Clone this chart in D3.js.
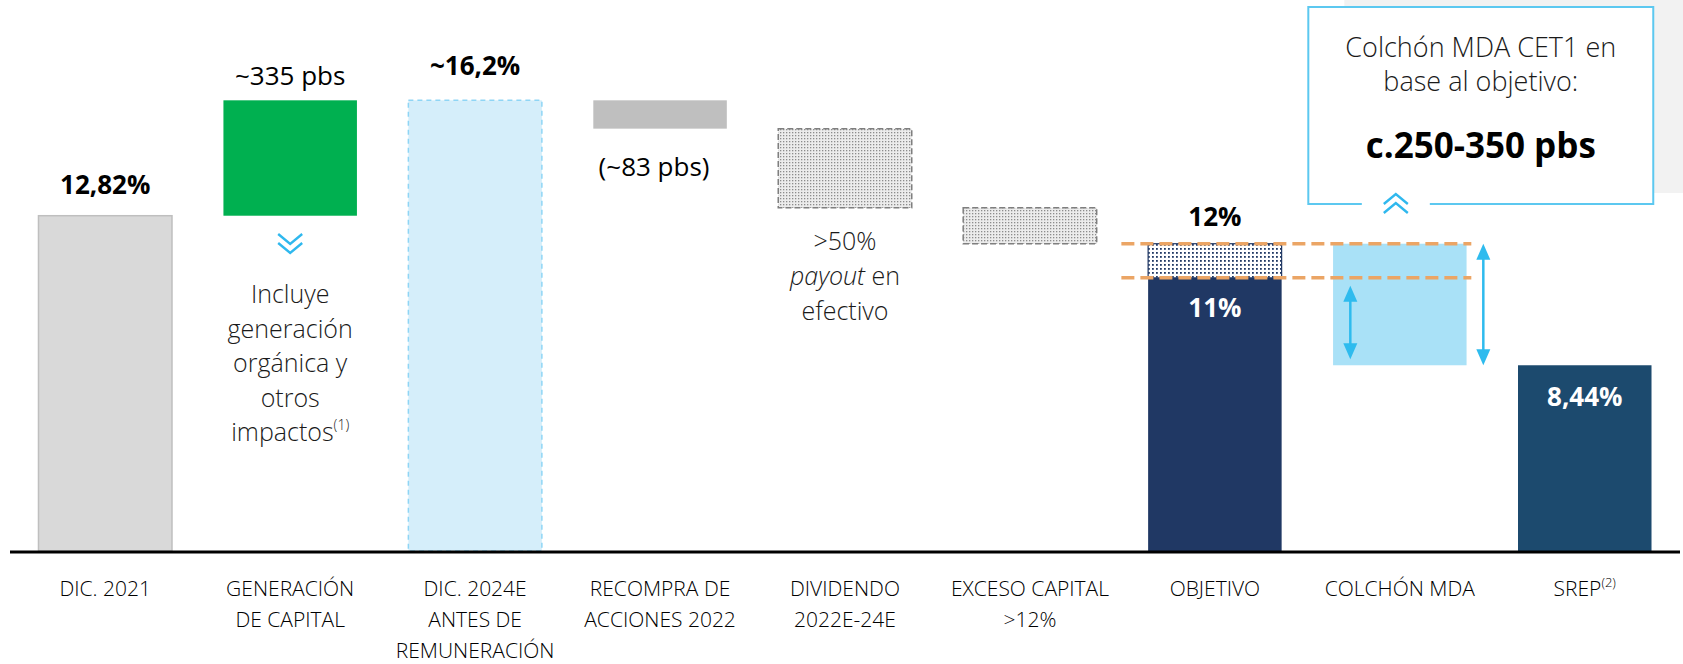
<!DOCTYPE html>
<html lang="es">
<head>
  <meta charset="UTF-8" />
  <title>Colchón MDA CET1</title>
  <script src="https://d3js.org/d3.v7.min.js"></script>
  <style>
    body { margin: 0; background: #fff; }
    svg { display: block; font-family: "Open Sans", sans-serif; }
  </style>
</head>
<body>
  <div id="chart"></div>

  <script>
    // categorías del eje
    const categories = ["dic21", "gen", "dic24", "recompra", "dividendo", "exceso", "objetivo", "colchon", "srep"];
    const categoryLines = [
      ["DIC. 2021"],
      ["GENERACIÓN", "DE CAPITAL"],
      ["DIC. 2024E", "ANTES DE", "REMUNERACIÓN"],
      ["RECOMPRA DE", "ACCIONES 2022"],
      ["DIVIDENDO", "2022E-24E"],
      ["EXCESO CAPITAL", ">12%"],
      ["OBJETIVO"],
      ["COLCHÓN MDA"],
      ["SREP"]
    ];

    // valores (% CET1): inicio y fin de cada barra
    const lowValues  = [0, 12.82, 0, 15.37, 13.05, 12, 0, 8.44, 0];
    const highValues = [12.82, 16.2, 16.2, 16.2, 15.37, 13.05, 12, 12, 8.44];
    const objetivoMin = 11;

    const W = 1683, H = 664;

    const svg = d3.select("#chart").append("svg")
      .attr("width", W)
      .attr("height", H);

    const x = d3.scaleBand()
      .domain(categories)
      .range([10, 1680])
      .paddingInner(0.27)
      .paddingOuter(0.15);

    // eje truncado: la base corresponde a ~3%
    const y = d3.scaleLinear()
      .domain([3, 17])
      .range([551, 73])
      .clamp(true);

    const bw = x.bandwidth();
    const defs = svg.append("defs");

    // tramas punteadas
    const grayDots = defs.append("pattern")
      .attr("id", "grayDots").attr("width", 3).attr("height", 3)
      .attr("patternUnits", "userSpaceOnUse");
    grayDots.append("rect").attr("width", 3).attr("height", 3).attr("fill", "#ececec");
    grayDots.append("rect").attr("width", 1.3).attr("height", 1.3).attr("fill", "#8c8c8c");

    const navyDots = defs.append("pattern")
      .attr("id", "navyDots").attr("width", 4).attr("height", 4)
      .attr("patternUnits", "userSpaceOnUse");
    navyDots.append("rect").attr("width", 4).attr("height", 4).attr("fill", "#ffffff");
    navyDots.append("rect").attr("width", 1.8).attr("height", 1.8).attr("fill", "#203864");

    const shadow = defs.append("filter").attr("id", "shadow")
      .attr("x", "-5%").attr("y", "-200%").attr("width", "110%").attr("height", "500%");
    shadow.append("feGaussianBlur").attr("stdDeviation", 3);

    // recuadro gris de fondo y caja del colchón
    const boxX0 = x("colchon") - 24, boxX1 = x("srep") + bw + 1;
    svg.append("rect")
      .attr("x", boxX0 + 36).attr("y", 0)
      .attr("width", W - boxX0 - 36).attr("height", 193)
      .attr("fill", "#f2f2f2");
    svg.append("rect")
      .attr("x", boxX0).attr("y", 7)
      .attr("width", boxX1 - boxX0).attr("height", 197)
      .attr("fill", "#fff");

    const boxMid = x("colchon") + bw / 2 - 4;
    svg.append("path")
      .attr("d", `M${boxMid - 34},204 H${boxX0} V7 H${boxX1} V204 H${boxMid + 34}`)
      .attr("fill", "none")
      .attr("stroke", "#5cc8f0")
      .attr("stroke-width", 2);

    // chevrones
    function chevron(cx, cy, dir) {
      [0, 9].forEach(off => {
        svg.append("path")
          .attr("d", `M${cx - 12},${cy + off * dir} L${cx},${cy + off * dir + 10 * dir} L${cx + 12},${cy + off * dir}`)
          .attr("fill", "none")
          .attr("stroke", "#2fb8ee")
          .attr("stroke-width", 2.4);
      });
    }
    chevron(boxMid, 213, -1);
    chevron(x("gen") + bw / 2, 234, 1);

    const boxText = svg.append("g")
      .attr("text-anchor", "middle")
      .attr("fill", "#1a1a1a");
    boxText.append("text").attr("x", (boxX0 + boxX1) / 2).attr("y", 57)
      .attr("font-size", 27).attr("font-weight", 300).text("Colchón MDA CET1 en");
    boxText.append("text").attr("x", (boxX0 + boxX1) / 2).attr("y", 91)
      .attr("font-size", 27).attr("font-weight", 300).text("base al objetivo:");
    boxText.append("text").attr("x", (boxX0 + boxX1) / 2).attr("y", 158)
      .attr("font-size", 35).attr("font-weight", 700).attr("fill", "#000").text("c.250-350 pbs");

    // barras
    const styles = {
      dic21:     { fill: "#d9d9d9", stroke: "#bfbfbf", dash: null },
      gen:       { fill: "#00b050", stroke: "none", dash: null },
      dic24:     { fill: "#d5eefa", stroke: "#8fd5f5", dash: "5,4" },
      recompra:  { fill: "#bfbfbf", stroke: "none", dash: null },
      dividendo: { fill: "url(#grayDots)", stroke: "#7f7f7f", dash: "6,3" },
      exceso:    { fill: "url(#grayDots)", stroke: "#7f7f7f", dash: "6,3" },
      objetivo:  { fill: "#203864", stroke: "none", dash: null },
      colchon:   { fill: "#a9e1f7", stroke: "none", dash: null },
      srep:      { fill: "#1c4a6e", stroke: "none", dash: null }
    };

    const barData = categories.map((c, i) => ({
      cat: c,
      lo: c === "objetivo" ? 0 : lowValues[i],
      hi: c === "objetivo" ? objetivoMin : highValues[i]
    }));

    svg.append("g").selectAll("rect")
      .data(barData)
      .join("rect")
      .attr("x", d => x(d.cat) + 0.75)
      .attr("y", d => y(d.hi))
      .attr("width", bw - 1.5)
      .attr("height", d => y(d.lo) - y(d.hi))
      .attr("fill", d => styles[d.cat].fill)
      .attr("stroke", d => styles[d.cat].stroke)
      .attr("stroke-width", 1.5)
      .attr("stroke-dasharray", d => styles[d.cat].dash);

    // tramo punteado del objetivo (11% - 12%)
    svg.append("rect")
      .attr("x", x("objetivo") + 0.75)
      .attr("y", y(highValues[6]))
      .attr("width", bw - 1.5)
      .attr("height", y(objetivoMin) - y(highValues[6]))
      .attr("fill", "url(#navyDots)")
      .attr("stroke", "#203864")
      .attr("stroke-width", 1.2);

    // líneas naranjas discontinuas en 12% y 11%
    const lineX0 = x("objetivo") - 26, lineX1 = x("colchon") + bw + 4;
    [highValues[6], objetivoMin].forEach(v => {
      svg.append("line")
        .attr("x1", lineX0).attr("x2", lineX1)
        .attr("y1", y(v) + 5).attr("y2", y(v) + 5)
        .attr("stroke", "#9a9a9a").attr("stroke-width", 4)
        .attr("opacity", 0.6)
        .attr("filter", "url(#shadow)");
      svg.append("line")
        .attr("x1", lineX0).attr("x2", lineX1)
        .attr("y1", y(v)).attr("y2", y(v))
        .attr("stroke", "#eba565").attr("stroke-width", 3.5)
        .attr("stroke-dasharray", "13,6");
    });

    // flechas dobles
    function dblArrow(ax, y0, y1) {
      const g = svg.append("g").attr("fill", "#2ebbee").attr("stroke", "#2ebbee");
      g.append("line").attr("x1", ax).attr("x2", ax).attr("y1", y0 + 10).attr("y2", y1 - 10)
        .attr("stroke-width", 2.5);
      g.append("path").attr("stroke", "none")
        .attr("d", `M${ax},${y0} L${ax - 7},${y0 + 16} L${ax + 7},${y0 + 16} Z`);
      g.append("path").attr("stroke", "none")
        .attr("d", `M${ax},${y1} L${ax - 7},${y1 - 16} L${ax + 7},${y1 - 16} Z`);
    }
    dblArrow(x("colchon") + bw + 16, y(highValues[7]), y(lowValues[7]));
    dblArrow(x("colchon") + 18, y(objetivoMin) + 8, y(lowValues[7]) - 6);

    // eje base
    svg.append("line")
      .attr("x1", 10).attr("x2", 1680)
      .attr("y1", 552).attr("y2", 552)
      .attr("stroke", "#000")
      .attr("stroke-width", 3);

    // etiquetas de categoría
    const catLabels = svg.append("g")
      .attr("text-anchor", "middle")
      .attr("font-size", 21)
      .attr("font-weight", 300)
      .attr("fill", "#000");
    categories.forEach((c, i) => {
      const t = catLabels.append("text")
        .attr("x", x(c) + bw / 2)
        .attr("y", 596);
      categoryLines[i].forEach((line, j) => {
        t.append("tspan")
          .attr("x", x(c) + bw / 2)
          .attr("dy", j === 0 ? 0 : 31)
          .text(line);
      });
      if (c === "srep") {
        t.append("tspan").attr("font-size", 13).attr("dy", -9).text("(2)");
      }
    });

    // etiquetas de valores
    const cx = c => x(c) + bw / 2;
    const valueLabels = [
      { cat: "dic21", y: y(highValues[0]) - 22, text: "12,82%", weight: 700, color: "#000" },
      { cat: "gen", y: y(highValues[1]) - 15, text: "~335 pbs", weight: 400, color: "#000" },
      { cat: "dic24", y: y(highValues[2]) - 25, text: "~16,2%", weight: 700, color: "#000" },
      { cat: "recompra", y: y(lowValues[3]) + 47, text: "(~83 pbs)", weight: 400, color: "#000" },
      { cat: "objetivo", y: y(highValues[6]) - 18, text: "12%", weight: 700, color: "#000" },
      { cat: "objetivo", y: y(objetivoMin) + 39, text: "11%", weight: 700, color: "#fff" },
      { cat: "srep", y: y(highValues[8]) + 41, text: "8,44%", weight: 700, color: "#fff" }
    ];
    svg.append("g")
      .attr("text-anchor", "middle")
      .attr("font-size", 26)
      .selectAll("text")
      .data(valueLabels)
      .join("text")
      .attr("x", d => cx(d.cat) - (d.cat === "recompra" ? 6 : 0))
      .attr("y", d => d.y)
      .attr("font-weight", d => d.weight)
      .attr("fill", d => d.color)
      .text(d => d.text);

    // notas
    const noteGen = ["Incluye", "generación", "orgánica y", "otros", "impactos"];
    const n1 = svg.append("text")
      .attr("text-anchor", "middle")
      .attr("font-size", 25)
      .attr("font-weight", 300)
      .attr("fill", "#1a1a1a")
      .attr("x", cx("gen"))
      .attr("y", 303);
    noteGen.forEach((line, j) => {
      n1.append("tspan").attr("x", cx("gen")).attr("dy", j === 0 ? 0 : 34.5).text(line);
    });
    n1.append("tspan").attr("font-size", 14).attr("dy", -11).text("(1)");

    const n2 = svg.append("text")
      .attr("text-anchor", "middle")
      .attr("font-size", 25)
      .attr("font-weight", 300)
      .attr("fill", "#1a1a1a")
      .attr("x", cx("dividendo"))
      .attr("y", 250);
    n2.append("tspan").attr("x", cx("dividendo")).text(">50%");
    n2.append("tspan").attr("x", cx("dividendo")).attr("dy", 35).attr("font-style", "italic").text("payout");
    n2.append("tspan").text(" en");
    n2.append("tspan").attr("x", cx("dividendo")).attr("dy", 35).text("efectivo");
  </script>
</body>
</html>
